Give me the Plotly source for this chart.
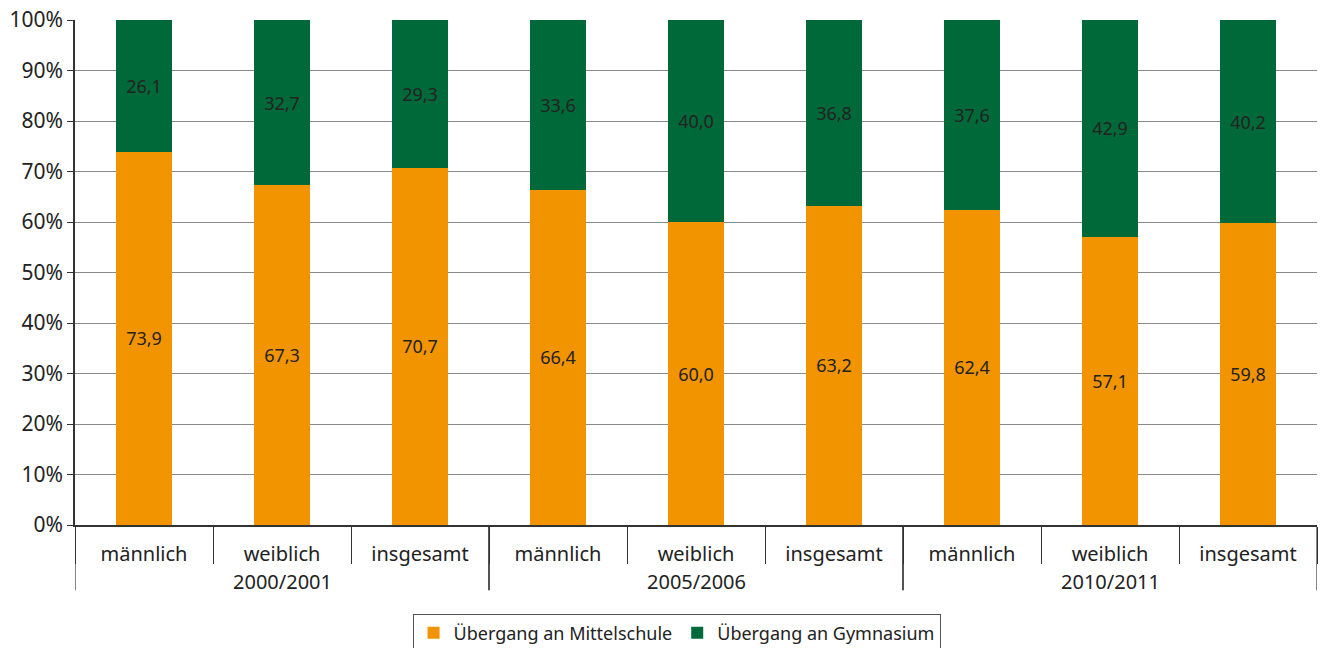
import plotly.graph_objects as go

years = ["2000/2001"] * 3 + ["2005/2006"] * 3 + ["2010/2011"] * 3
groups = ["männlich", "weiblich", "insgesamt"] * 3
mittelschule = [73.9, 67.3, 70.7, 66.4, 60.0, 63.2, 62.4, 57.1, 59.8]
gymnasium = [26.1, 32.7, 29.3, 33.6, 40.0, 36.8, 37.6, 42.9, 40.2]

FONT = "Noto Sans"
TXT = "#222222"
AX = "#333333"

def fmt(v):
    return f"{v:.1f}".replace(".", ",")

xi = list(range(len(groups)))

fig = go.Figure()
fig.add_trace(go.Bar(
    x=xi, y=mittelschule, name="Übergang an Mittelschule",
    marker=dict(color="#F29400", line=dict(width=0)),
    text=[fmt(v) for v in mittelschule], textposition="inside",
    insidetextanchor="middle", textfont=dict(color=TXT, size=18, family=FONT),
))
fig.add_trace(go.Bar(
    x=xi, y=gymnasium, name="Übergang an Gymnasium",
    marker=dict(color="#00693A", line=dict(width=0)),
    text=[fmt(v) for v in gymnasium], textposition="inside",
    insidetextanchor="middle", textfont=dict(color=TXT, size=18, family=FONT),
))

# year labels and group dividers derived from the data
unique_years = list(dict.fromkeys(years))
annotations = []
shapes = []
for yr in unique_years:
    idx = [i for i, v in enumerate(years) if v == yr]
    annotations.append(dict(x=sum(idx) / len(idx), xref="x", y=0, yref="paper",
                            yanchor="middle", yshift=-56, text=yr, showarrow=False,
                            font=dict(size=20, family=FONT, color=TXT)))
    for b in (min(idx) - 0.5, max(idx) + 0.5):
        shapes.append(dict(type="line", xref="x", yref="paper", x0=b, x1=b,
                           y0=0, y1=-0.129, line=dict(color=AX, width=1.2)))

fig.update_layout(
    barmode="stack", bargap=0.59,
    width=1324, height=648,
    margin=dict(l=75, r=7, t=20, b=123),
    paper_bgcolor="white", plot_bgcolor="white",
    font=dict(family=FONT, color=TXT, size=20),
    showlegend=True,
    legend=dict(orientation="h", x=0.511, xanchor="center", xref="container",
                y=0.053, yanchor="top", yref="container",
                bordercolor="#555555", borderwidth=1, font=dict(size=18, family=FONT),
                itemwidth=30, traceorder="normal"),
    uniformtext=dict(mode="show", minsize=10),
    annotations=annotations, shapes=shapes,
)
fig.update_yaxes(range=[0, 100], dtick=10, ticksuffix="%", showgrid=True,
                 gridcolor="#8a8a8a", gridwidth=1, showline=True, linecolor=AX,
                 linewidth=1.5, ticks="outside", ticklen=6, tickcolor=AX,
                 tickfont=dict(size=21, family=FONT, color=TXT), zeroline=False,
                 automargin=False)
fig.update_xaxes(range=[-0.5, len(groups) - 0.5], tickmode="array", tickvals=xi,
                 ticktext=groups, ticks="", showgrid=False, zeroline=False,
                 showline=True, linecolor=AX, linewidth=1.5,
                 minor=dict(tickmode="linear", tick0=-0.5, dtick=1, ticks="outside",
                            ticklen=37, tickcolor=AX, tickwidth=1.2, showgrid=False),
                 ticklabelstandoff=10, automargin=False,
                 tickfont=dict(size=20, family=FONT, color=TXT))

fig.write_html("out.html")
